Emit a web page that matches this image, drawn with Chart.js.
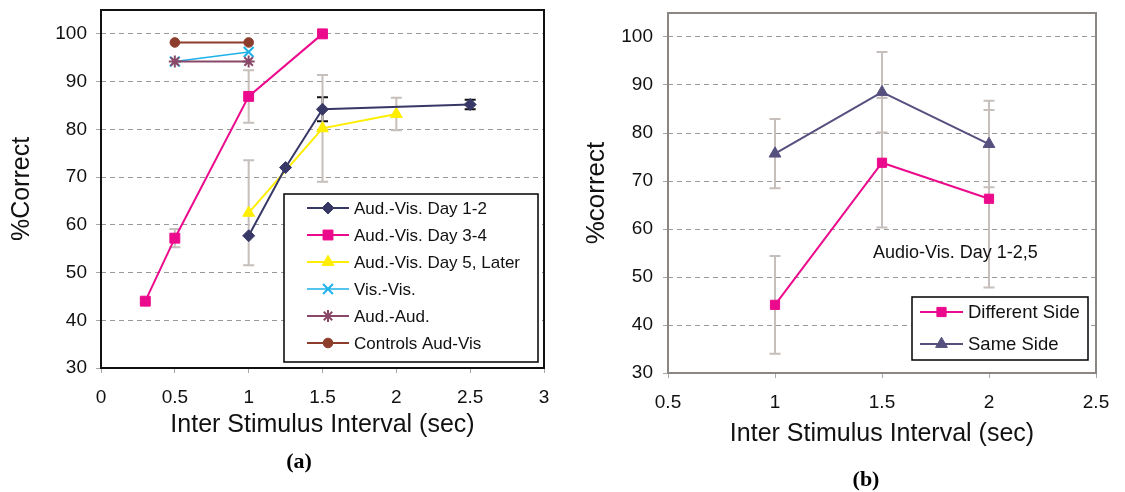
<!DOCTYPE html>
<html>
<head>
<meta charset="utf-8">
<title>Inter Stimulus Interval</title>
<script src="https://cdn.jsdelivr.net/npm/chart.js@4.4.1/dist/chart.umd.min.js"></script>
<style>
  body { margin: 0; background: #fff; width: 1125px; height: 492px; overflow: hidden; position: relative; }
  canvas { position: absolute; top: 0; }
  #chartA { left: 0; }
  #chartB { left: 570px; }
  .caption { position: absolute; font: bold 22px 'Liberation Serif', 'Times New Roman', serif; transform: translate(-50%, -50%); }
</style>
</head>
<body>
<canvas id="chartA" width="570" height="492"></canvas>
<canvas id="chartB" width="555" height="492"></canvas>
<div class="caption" style="left:299px; top:461px;">(a)</div>
<div class="caption" style="left:866px; top:479px;">(b)</div>
<script>
'use strict'

// Panel (a) data
const isiDay12 = [1, 1.25, 1.5, 2.5];
const pctDay12 = [57.7, 72, 84.2, 85.2];
const errDay12 = [null, null, 2.5, 1];

const isiDay34 = [0.3, 0.5, 1, 1.5];
const pctDay34 = [44, 57.2, 86.9, 100];
const errDay34 = [0.4, 1.9, 5.5, null];

const isiDay5 = [1, 1.5, 2];
const pctDay5 = [62.5, 80.2, 83.2];
const errDay5 = [11, 11.2, 3.4];

const isiVisVis = [0.5, 1];
const pctVisVis = [94.2, 96.2];

const isiAudAud = [0.5, 1];
const pctAudAud = [94.2, 94.2];

const isiControls = [0.5, 1];
const pctControls = [98.2, 98.2];

// Panel (b) data
const isiSides = [1, 1.5, 2];
const pctDifferent = [44.2, 73.8, 66.3];
const errDifferent = [10.2, 13.5, 18.5];
const pctSame = [75.7, 88.5, 77.7];
const errSame = [7.2, 8.4, 9];

// Tick labels
const xTicksA = [0, 0.5, 1, 1.5, 2, 2.5, 3];
const xTicksB = [0.5, 1, 1.5, 2, 2.5];
const yTicks = [30, 40, 50, 60, 70, 80, 90, 100];

const FONT = "'Liberation Sans', Arial, Helvetica, sans-serif";
Chart.defaults.font.family = FONT;
Chart.defaults.color = '#111';

function points(xs, ys) {
  return xs.map((x, i) => ({ x: x, y: ys[i] }));
}

// later series are drawn on top, like the original spreadsheet chart
let seriesCount = 0;
function series(label, xs, ys, color, style, radius, extra) {
  seriesCount++;
  return Object.assign({
    label: label,
    data: points(xs, ys),
    order: 100 - seriesCount,
    showLine: true,
    borderColor: color,
    backgroundColor: color,
    borderWidth: 2,
    pointStyle: style,
    pointRadius: radius,
    pointHoverRadius: radius,
    pointBackgroundColor: color,
    pointBorderColor: color,
    pointBorderWidth: 1
  }, extra || {});
}

// vertical error bars, drawn under the lines and markers
const errorBars = {
  id: 'errorBars',
  beforeDatasetsDraw(chart) {
    const ctx = chart.ctx;
    const xs = chart.scales.x;
    const ys = chart.scales.y;
    chart.data.datasets.forEach(ds => {
      if (!ds.errors) return;
      ctx.save();
      ctx.strokeStyle = ds.errorColor;
      ctx.lineWidth = 2;
      ds.data.forEach((p, i) => {
        const e = ds.errors[i];
        if (e == null) return;
        const px = xs.getPixelForValue(p.x);
        const top = ys.getPixelForValue(p.y + e);
        const bot = ys.getPixelForValue(p.y - e);
        ctx.beginPath();
        ctx.moveTo(px, top); ctx.lineTo(px, bot);
        ctx.moveTo(px - 5.5, top); ctx.lineTo(px + 5.5, top);
        ctx.moveTo(px - 5.5, bot); ctx.lineTo(px + 5.5, bot);
        ctx.stroke();
      });
      ctx.restore();
    });
  }
};

// plot frame, boxed legend with line + marker, and free text note
const frameAndLegend = {
  id: 'frameAndLegend',
  afterDraw(chart, args, opts) {
    const ctx = chart.ctx;
    const a = chart.chartArea;
    ctx.save();
    ctx.strokeStyle = opts.frameColor;
    ctx.lineWidth = opts.frameWidth;
    ctx.strokeRect(a.left, a.top, a.right - a.left, a.bottom - a.top);

    const lg = opts.legend;
    ctx.fillStyle = '#fff';
    ctx.fillRect(lg.left, lg.top, lg.width, lg.height);
    ctx.strokeStyle = '#000';
    ctx.lineWidth = 1.5;
    ctx.strokeRect(lg.left, lg.top, lg.width, lg.height);

    ctx.font = lg.fontSize + 'px ' + FONT;
    ctx.textBaseline = 'middle';
    ctx.textAlign = 'left';
    chart.data.datasets.forEach((ds, i) => {
      const y = lg.rowY + i * lg.rowStep;
      ctx.strokeStyle = ds.borderColor;
      ctx.lineWidth = ds.borderWidth;
      ctx.beginPath();
      ctx.moveTo(lg.lineX0, y);
      ctx.lineTo(lg.lineX1, y);
      ctx.stroke();
      ctx.fillStyle = ds.pointBackgroundColor;
      ctx.strokeStyle = ds.pointBorderColor;
      ctx.lineWidth = ds.pointBorderWidth;
      Chart.helpers.drawPoint(ctx, {
        pointStyle: ds.pointStyle,
        radius: ds.pointRadius,
        rotation: 0,
        borderWidth: ds.pointBorderWidth
      }, (lg.lineX0 + lg.lineX1) / 2, y);
      ctx.fillStyle = '#111';
      ctx.fillText(ds.label, lg.textX, y + 1);
    });

    if (opts.note) {
      const n = opts.note;
      ctx.font = n.fontSize + 'px ' + FONT;
      ctx.fillStyle = '#111';
      ctx.fillText(n.text, chart.scales.x.getPixelForValue(n.x), chart.scales.y.getPixelForValue(n.y));
    }
    ctx.restore();
  }
};

function axes(xTicks, xMin, xMax, box) {
  return {
    x: {
      type: 'linear',
      min: xMin,
      max: xMax,
      afterBuildTicks: s => { s.ticks = xTicks.map(v => ({ value: v })); },
      afterFit: s => { s.height = box.xHeight; s.paddingLeft = 0; s.paddingRight = 0; },
      border: { display: false },
      grid: { drawOnChartArea: false, drawTicks: true, tickLength: 5, tickColor: '#a6a6a6', tickWidth: 1 },
      ticks: { font: { size: 19 }, padding: 13.5, color: '#111', maxRotation: 0, callback: v => String(v) },
      title: { display: true, text: 'Inter Stimulus Interval (sec)', font: { size: 25 }, color: '#111', padding: { top: 0, bottom: box.xTitlePad } }
    },
    y: {
      min: 30,
      max: 105,
      afterBuildTicks: s => { s.ticks = yTicks.map(v => ({ value: v })); },
      afterFit: s => { s.width = box.yWidth; s.paddingTop = 0; s.paddingBottom = 0; },
      border: { display: false, dash: [5, 4] },
      grid: { color: '#999999', lineWidth: 1, tickLength: 5, tickColor: '#a6a6a6', tickBorderDash: [] },
      ticks: { font: { size: 19 }, padding: box.yPad, color: '#111', callback: v => String(v) },
      title: { display: true, text: box.yTitle, font: { size: box.yTitleSize }, color: '#111', padding: { top: box.yTitlePad, bottom: 0 } }
    }
  };
}

const chartA = new Chart(document.getElementById('chartA'), {
  type: 'scatter',
  data: {
    datasets: [
      series('Aud.-Vis. Day 1-2', isiDay12, pctDay12, '#383866', 'rectRot', 6, { errors: errDay12, errorColor: '#111', order: 0 }),
      series('Aud.-Vis. Day 3-4', isiDay34, pctDay34, '#ec0a8c', 'rect', 7, { errors: errDay34, errorColor: '#c6bfbb' }),
      series('Aud.-Vis. Day 5, Later', isiDay5, pctDay5, '#ffee00', 'triangle', 6.8, { errors: errDay5, errorColor: '#c6bfbb' }),
      series('Vis.-Vis.', isiVisVis, pctVisVis, '#1fb1ea', 'crossRot', 7, { pointBorderWidth: 2, borderWidth: 1.5 }),
      series('Aud.-Aud.', isiAudAud, pctAudAud, '#8a4868', 'star', 6, { pointBorderWidth: 2 }),
      series('Controls Aud-Vis', isiControls, pctControls, '#8c3d2b', 'circle', 4.8)
    ]
  },
  options: {
    responsive: false,
    animation: false,
    layout: { padding: { top: 10, right: 26, bottom: 0, left: 0 } },
    scales: axes(xTicksA, 0, 3, { xHeight: 124, xTitlePad: 52, yWidth: 101, yPad: 9, yTitle: '%Correct', yTitleSize: 25, yTitlePad: 7.5 }),
    plugins: {
      legend: { display: false },
      tooltip: { enabled: false },
      frameAndLegend: {
        frameColor: '#111',
        frameWidth: 2,
        legend: { left: 284, top: 194, width: 254, height: 168, rowY: 208, rowStep: 27, lineX0: 307, lineX1: 349, textX: 354, fontSize: 17 }
      }
    }
  },
  plugins: [errorBars, frameAndLegend]
});

const chartB = new Chart(document.getElementById('chartB'), {
  type: 'scatter',
  data: {
    datasets: [
      series('Different Side', isiSides, pctDifferent, '#ec0a8c', 'rect', 6.5, { errors: errDifferent, errorColor: '#c6bfbb' }),
      series('Same Side', isiSides, pctSame, '#55507e', 'triangle', 6.8, { errors: errSame, errorColor: '#c6bfbb' })
    ]
  },
  options: {
    responsive: false,
    animation: false,
    layout: { padding: { top: 13, right: 29, bottom: 0, left: 0 } },
    scales: axes(xTicksB, 0.5, 2.5, { xHeight: 119, xTitlePad: 43, yWidth: 98, yPad: 10, yTitle: '%correct', yTitleSize: 26, yTitlePad: 11.4 }),
    plugins: {
      legend: { display: false },
      tooltip: { enabled: false },
      frameAndLegend: {
        frameColor: '#8c8682',
        frameWidth: 2,
        legend: { left: 342, top: 297, width: 176, height: 63, rowY: 312, rowStep: 32, lineX0: 350, lineX1: 393, textX: 398, fontSize: 18.5 },
        note: { x: 1.458, y: 55, text: 'Audio-Vis. Day 1-2,5', fontSize: 18 }
      }
    }
  },
  plugins: [errorBars, frameAndLegend]
});
</script>
</body>
</html>
